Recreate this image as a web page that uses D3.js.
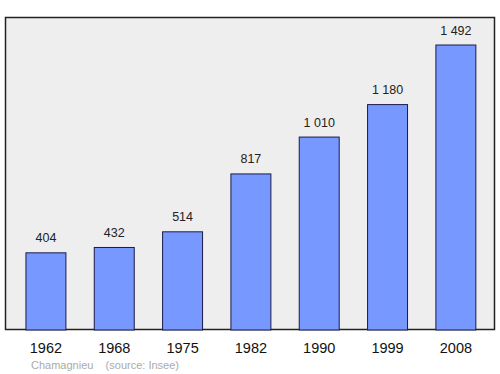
<!DOCTYPE html>
<html><head><meta charset="utf-8">
<script src="https://cdn.jsdelivr.net/npm/d3@7"></script>
<style>body{margin:0;background:#fff}</style>
</head><body>
<svg id="c" width="500" height="374"></svg>
<script>
const years = ["1962","1968","1975","1982","1990","1999","2008"];
const population = [404,432,514,817,1010,1180,1492];
const labels = ["404","432","514","817","1 010","1 180","1 492"];

const svg = d3.select("#c");
svg.append("rect").attr("x",5.5).attr("y",17.5).attr("width",489).attr("height",312)
  .attr("fill","#eeeeee").attr("stroke","#222").attr("stroke-width",1.5);

const x = d3.scaleBand().domain(years).range([11.8,490]).paddingInner(0.415).paddingOuter(0.207);
const y = d3.scaleLinear().domain([0,1492]).range([330,45]);

svg.selectAll(".bar").data(population).join("rect")
  .attr("x",(d,i)=>x(years[i])).attr("y",d=>y(d))
  .attr("width",x.bandwidth()).attr("height",d=>y(0)-y(d))
  .attr("fill","#7799ff").attr("stroke","#1a1a4a").attr("stroke-width",1);

svg.selectAll(".val").data(population).join("text")
  .attr("x",(d,i)=>x(years[i])+x.bandwidth()/2).attr("y",d=>y(d)-10.5)
  .attr("text-anchor","middle").attr("font-family","Liberation Sans, Arial, sans-serif")
  .attr("font-size",12.5).attr("fill","#222").text((d,i)=>labels[i]);

const ax = svg.append("g").attr("transform","translate(0,330)")
  .call(d3.axisBottom(x).tickSize(0).tickPadding(13));
ax.select(".domain").remove();
ax.selectAll("text").attr("font-family","Liberation Sans, Arial, sans-serif").attr("font-size",14.5).attr("fill","#111");

svg.append("text").attr("x",31).attr("y",369).attr("font-family","Liberation Sans, Arial, sans-serif")
  .attr("font-size",11).attr("fill","#aaaaaa").attr("xml:space","preserve").style("white-space","pre")
  .text("Chamagnieu    (source: Insee)");
</script>
</body></html>
